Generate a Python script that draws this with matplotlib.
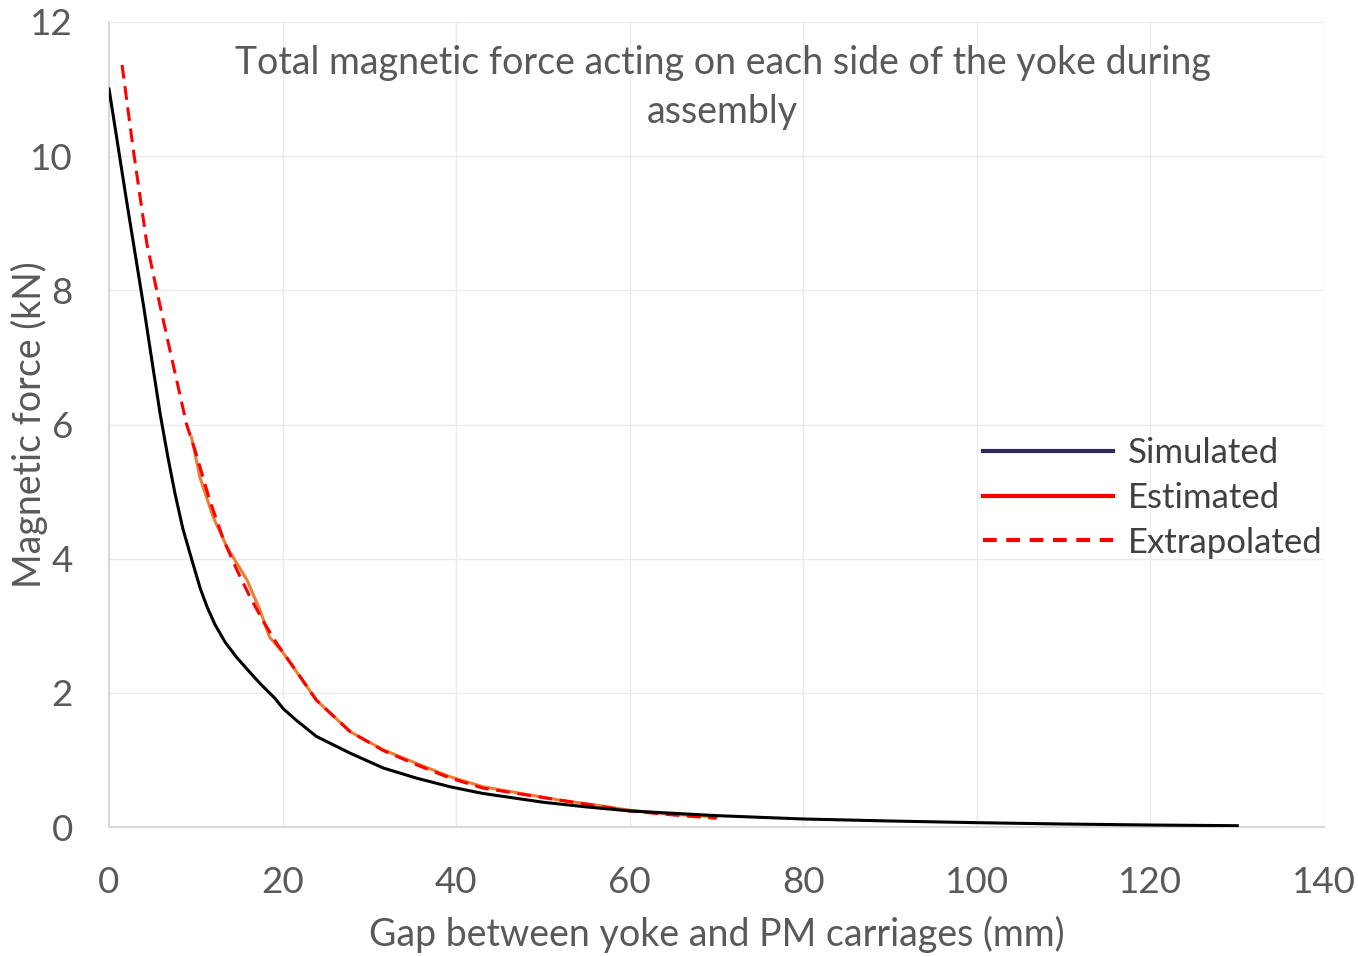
import matplotlib
matplotlib.use("Agg")
import matplotlib.pyplot as plt
from matplotlib.lines import Line2D

plt.rcParams["font.family"] = ["Lato", "DejaVu Sans"]

# Simulated force (black)
sim_gap = [0, 2, 4, 5.0, 5.9, 6.8, 7.6, 8.5, 9.5, 10.5, 11.3, 12.2, 13.4, 14.7,
           16.2, 17.4, 19.1, 20.1, 21.5, 23.9, 27.8, 31.6, 35.4, 39.3, 43.1,
           50, 55, 60, 70, 80, 90, 100, 110, 120, 130]
sim_force = [11.0, 9.35, 7.75, 6.9, 6.15, 5.5, 4.97, 4.45, 4.0, 3.56, 3.28,
             3.02, 2.75, 2.53, 2.31, 2.14, 1.92, 1.76, 1.60, 1.35, 1.10, 0.88,
             0.73, 0.60, 0.50, 0.37, 0.30, 0.24, 0.17, 0.12, 0.09, 0.065,
             0.045, 0.03, 0.02]

# Estimated force (orange)
est_gap = [9.5, 10.5, 12.0, 13.6, 15.9, 17.4, 18.5, 20.1, 22.0, 23.9, 27.8,
           31.6, 35.4, 39.3, 43.1, 48.4, 52, 56, 60, 65, 70]
est_force = [5.81, 5.2, 4.62, 4.17, 3.68, 3.23, 2.83, 2.59, 2.24, 1.89, 1.42,
             1.15, 0.95, 0.75, 0.60, 0.48, 0.40, 0.33, 0.25, 0.19, 0.15]

# Extrapolated force (red dashed)
ext_gap = [1.5, 2.8, 4.35, 5.49, 7.2, 8.94, 9.9, 11.6, 13.2, 14.7, 16.2, 17.8,
           19.3, 21.6, 23.9, 27.8, 31.6, 35.4, 39.3, 43.1, 48, 52, 56, 60, 65,
           70]
ext_force = [11.36, 10.09, 8.7, 8.0, 7.0, 6.0, 5.62, 4.87, 4.28, 3.84, 3.44,
             3.06, 2.74, 2.32, 1.89, 1.42, 1.14, 0.93, 0.73, 0.58, 0.48, 0.40,
             0.32, 0.24, 0.18, 0.13]

TXT = "#595959"
GRID = "#EBEBEB"
ORANGE = "#ED7D31"

fig = plt.figure(figsize=(13.58, 9.56), dpi=100)
ax = fig.add_axes([0.0803, 0.1349, 0.8947, 0.8421])

ax.plot(est_gap, est_force, color=ORANGE, lw=2.2, zorder=3)
ax.plot(ext_gap, ext_force, color="#FF0000", lw=2.2, dashes=(4.5, 2.5), zorder=4)
ax.plot(sim_gap, sim_force, color="black", lw=2.2, zorder=5)

ax.set_xlim(0, 140)
ax.set_ylim(0, 12)
ax.set_xticks(range(0, 141, 20))
ax.set_yticks(range(0, 13, 2))
ax.grid(True, color=GRID, lw=1.0)
ax.set_axisbelow(True)
for s in ("top", "right"):
    ax.spines[s].set_visible(False)
for s in ("left", "bottom"):
    ax.spines[s].set_color("#D9D9D9")
    ax.spines[s].set_linewidth(1.5)
ax.tick_params(length=0, labelsize=26.5, colors=TXT)
ax.tick_params(axis="x", pad=28)
ax.tick_params(axis="y", pad=26)

ax.set_xlabel("Gap between yoke and PM carriages (mm)", fontsize=27, color=TXT,
              labelpad=12)
ax.set_ylabel("Magnetic force (kN)", fontsize=27, color=TXT)
ax.yaxis.set_label_coords(-0.05, 0.5)

ax.text(0.505, 0.972, "Total magnetic force acting on each side of the yoke during\nassembly",
        transform=ax.transAxes, ha="center", va="top", fontsize=27, color=TXT,
        linespacing=1.45)

handles = [
    Line2D([], [], color="#2E2A5A", lw=3),
    Line2D([], [], color="#FF0000", lw=3),
    Line2D([], [], color="#FF0000", lw=3, dashes=(3.3, 2.3)),
]
ax.legend(handles, ["Simulated", "Estimated", "Extrapolated"],
          loc="center left", bbox_to_anchor=(0.719, 0.409), frameon=False,
          fontsize=25, handlelength=3.75, handletextpad=0.43, labelspacing=0.37,
          borderpad=0, borderaxespad=0, labelcolor="#404040")

fig.savefig("out.png", dpi=100)
